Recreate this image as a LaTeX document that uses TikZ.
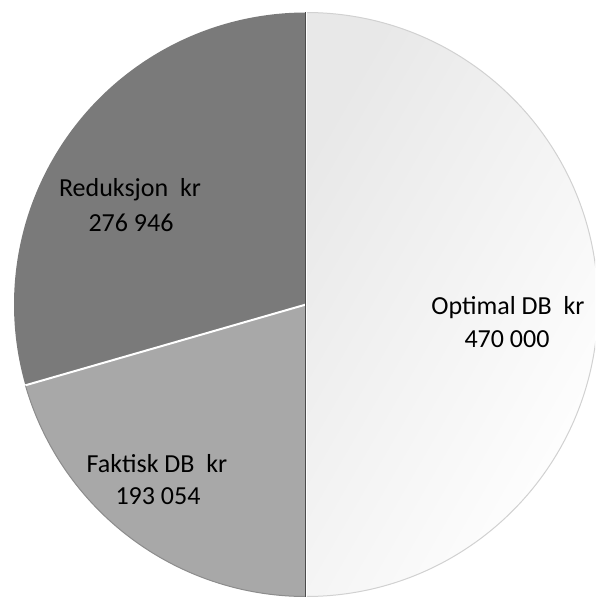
\documentclass[tikz,border=0pt]{standalone}
\usepackage{fontspec}
\setmainfont{Carlito}
\begin{document}
\begin{tikzpicture}[x=1pt,y=1pt,
  lbl/.style={anchor=base,inner sep=0pt,font=\fontsize{26}{31}\selectfont,text=black}]
\useasboundingbox (-306,-292.5) rectangle (289,304.5);
\begin{scope}
\clip (-306,-292.5) rectangle (289,304.5);
\coordinate (c) at (0,0);
% Optimal DB slice
\path[left color=black!9, right color=white, shading angle=60]
  (c) -- (90:292) arc[start angle=90,end angle=-90,radius=292] -- cycle;
\draw[black!18,line width=1pt] (90:292) arc[start angle=90,end angle=-90,radius=292];
% Reduksjon slice
\fill[black!52] (c) -- (90:292) arc[start angle=90,end angle=196.065,radius=292] -- cycle;
% Faktisk slice
\fill[black!34] (c) -- (196.065:292) arc[start angle=196.065,end angle=270,radius=292] -- cycle;
\draw[black!45,line width=1pt] (196.065:292) arc[start angle=196.065,end angle=270,radius=292];
% separators
\draw[white,line width=2pt] (c) -- (196.065:292);
\draw[black!70,line width=1.2pt] (-0.8,292) -- (-0.8,-292);
\draw[white,line width=1pt] (0.8,292) -- (0.8,-292);
\end{scope}
\node[lbl] (o1) at (202,-10.5) {Optimal DB\ \ kr};
\node[lbl] (o2) at (201,-42.5) {470 000};
\node[lbl] (r1) at (-176,107.5) {Reduksjon\ \ kr};
\node[lbl] (r2) at (-175,72.5) {276 946};
\node[lbl] (f1) at (-149,-167.5) {Faktisk DB\ \ kr};
\node[lbl] (f2) at (-148,-199.5) {193 054};
\end{tikzpicture}
\end{document}
